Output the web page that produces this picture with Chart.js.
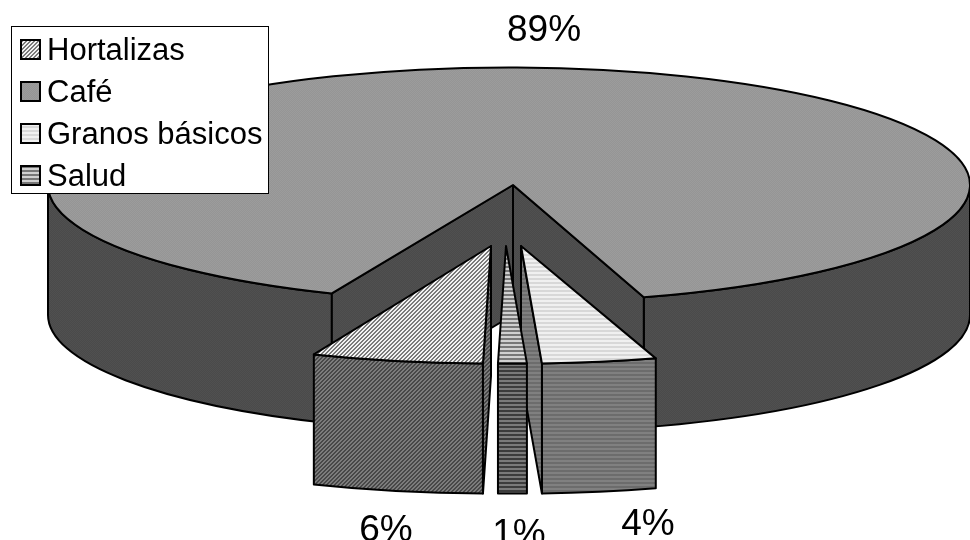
<!DOCTYPE html>
<html lang="es">
<head>
    <meta charset="UTF-8">
    <title>Cartera de crédito</title>
    <script src="https://cdn.jsdelivr.net/npm/chart.js"></script>
    <style>
        body { margin: 0; background: #fff; }
        canvas { display: block; }
    </style>
</head>
<body>
    <canvas id="pie3d" width="970" height="540"></canvas>

    <script>
const categories = ['Hortalizas', 'Café', 'Granos básicos', 'Salud'];
const shares = [6, 89, 4, 1];

// Look of the fake 3D pie
const squash = 117.5 / 461;
const depth = 130;
const font = '"Liberation Sans", Arial, sans-serif';

// How far each slice is pulled out of the pie, and where its label sits
const pullX = [-18, 0, 12, -3];
const pullY = [61, 0, 61, 61];
const hubShift = [0, 4, 0, 0];
const labelX = [386, 544, 648, 519];
const labelY = [531, 31, 525, 535];

// Builds a small repeating tile, grid values index into colors
function tile(grid, colors) {
    const c = document.createElement('canvas');
    c.width = grid[0].length;
    c.height = grid.length;
    const g = c.getContext('2d');
    grid.forEach((row, y) => {
        [...row].forEach((v, x) => {
            g.fillStyle = colors[+v];
            g.fillRect(x, y, 1, 1);
        });
    });
    return c;
}

const diag = ['0011', '0110', '1100', '1001'];
const stripes = ['0', '0', '1', '1'];
const dots = ['01', '10'];

const ctx = document.getElementById('pie3d').getContext('2d');
const fills = {
    top: [
        ctx.createPattern(tile(diag, ['#f2f2f2', '#7a7a7a']), 'repeat'),
        ctx.createPattern(tile(dots, ['#9c9c9c', '#959595']), 'repeat'),
        ctx.createPattern(tile(stripes, ['#f0f0f0', '#d8d8d8']), 'repeat'),
        ctx.createPattern(tile(stripes, ['#d0d0d0', '#777777']), 'repeat'),
    ],
    wall: [
        ctx.createPattern(tile(diag, ['#7c7c7c', '#484848']), 'repeat'),
        ctx.createPattern(tile(dots, ['#505050', '#4a4a4a']), 'repeat'),
        ctx.createPattern(tile(stripes, ['#808080', '#6c6c6c']), 'repeat'),
        ctx.createPattern(tile(stripes, ['#7a7a7a', '#3c3c3c']), 'repeat'),
    ],
};

function shape(c, fill, trace) {
    c.beginPath();
    trace();
    c.closePath();
    c.fillStyle = fill;
    c.fill();
    c.stroke();
}

// Outer rim between two angles, only the part facing the viewer
function rim(c, x, y, r, a0, a1, fill) {
    const from = Math.max(a0, 0);
    const to = Math.min(a1, Math.PI);
    if (to <= from) return;
    shape(c, fill, () => {
        c.ellipse(x, y, r, r * squash, 0, from, to);
        c.ellipse(x, y + depth, r, r * squash, 0, to, from, true);
    });
}

// Flat cut face from the hub out to the rim at angle a
function cutFace(c, hx, x, y, r, a, fill) {
    const ex = x + Math.cos(a) * r;
    const ey = y + Math.sin(a) * r * squash;
    shape(c, fill, () => {
        c.moveTo(hx, y);
        c.lineTo(ex, ey);
        c.lineTo(ex, ey + depth);
        c.lineTo(hx, y + depth);
    });
}

function drawSlice(c, arc, i) {
    const {startAngle: a0, endAngle: a1, outerRadius: r} = arc.getProps(['startAngle', 'endAngle', 'outerRadius'], true);
    const x = arc.x + pullX[i];
    const y = arc.y + pullY[i];
    const hx = x + hubShift[i];
    const wall = fills.wall[i];
    const tau = Math.PI * 2;

    rim(c, x, y, r, a0, a1, wall);
    rim(c, x, y, r, a0 - tau, a1 - tau, wall);

    // a cut face only shows when it turns towards the viewer
    if (Math.cos(a0) < 0) cutFace(c, hx, x, y, r, a0, wall);
    if (Math.cos(a1) > 0) cutFace(c, hx, x, y, r, a1, wall);

    shape(c, fills.top[i], () => {
        c.moveTo(hx, y);
        c.ellipse(x, y, r, r * squash, 0, a0, a1);
    });
}

const pie3d = {
    id: 'pie3d',
    beforeDatasetsDraw(chart) {
        const c = chart.ctx;
        const arcs = chart.getDatasetMeta(0).data;
        c.save();
        c.strokeStyle = '#000';
        c.lineWidth = 2;
        c.lineJoin = 'round';
        // big slice at the back first, pulled slices from the sides in
        [1, 2, 0, 3].forEach(i => drawSlice(c, arcs[i], i));
        c.restore();
        return false;
    },
    afterDraw(chart) {
        const c = chart.ctx;
        c.save();

        c.fillStyle = '#000';
        c.font = '37px ' + font;
        c.textAlign = 'center';
        c.textBaseline = 'middle';
        shares.forEach((v, i) => c.fillText(v + '%', labelX[i], labelY[i]));

        // legend box
        c.fillStyle = '#fff';
        c.strokeStyle = '#000';
        c.lineWidth = 1;
        c.fillRect(11.5, 26.5, 257, 167);
        c.strokeRect(11.5, 26.5, 257, 167);
        c.font = '31px ' + font;
        c.textAlign = 'left';
        categories.forEach((name, i) => {
            const rowY = 49 + i * 42;
            c.fillStyle = fills.top[i];
            c.fillRect(21, rowY - 9, 19, 19);
            c.lineWidth = 2;
            c.strokeRect(21, rowY - 9, 19, 19);
            c.fillStyle = '#000';
            c.fillText(name, 47, rowY + 2);
        });
        c.restore();
    },
};

new Chart(ctx, {
    type: 'pie',
    data: {
        labels: categories,
        datasets: [{
            data: shares,
            radius: 461,
            borderWidth: 0,
        }],
    },
    options: {
        responsive: false,
        animation: false,
        rotation: 181,
        // puts the hub of the pie where it belongs on the page
        layout: { padding: { left: 48, bottom: 170 } },
        plugins: {
            legend: { display: false },
            tooltip: { enabled: false },
        },
    },
    plugins: [pie3d],
});
    </script>
</body>
</html>
